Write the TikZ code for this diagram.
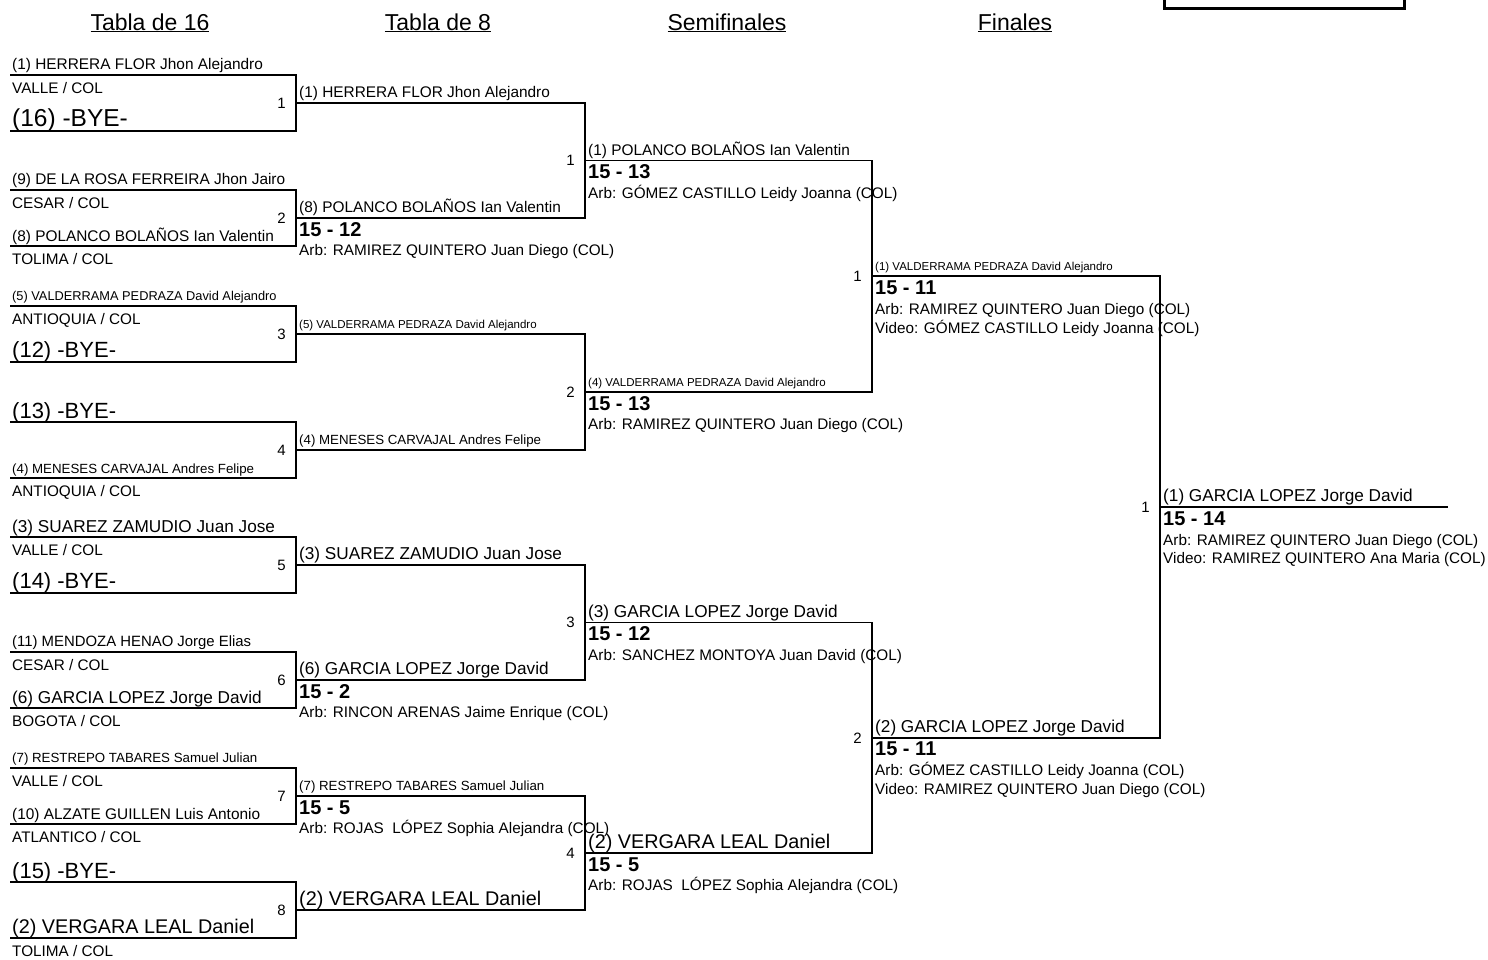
\documentclass[tikz,border=0pt]{standalone}
\usepackage{fontspec}
\setmainfont{Liberation Sans}

\tikzset{
  txt/.style={anchor=base west, inner sep=0pt},
  nm/.style={txt, font=\fontsize{15.4}{17}\selectfont},
  nmS/.style={txt, font=\fontsize{13.3}{15}\selectfont},
  nmL/.style={txt, font=\fontsize{17.2}{19}\selectfont},
  nmXL/.style={txt, font=\fontsize{19.8}{22}\selectfont},
  valS/.style={txt, font=\fontsize{11.5}{13}\selectfont},
  valM/.style={txt, font=\fontsize{12.8}{14}\selectfont},
  team/.style={txt, font=\fontsize{15.3}{17}\selectfont},
  bye/.style={txt, font=\fontsize{22}{24}\selectfont},
  score/.style={txt, font=\bfseries\fontsize{20}{22}\selectfont},
  arb/.style={txt, font=\fontsize{15.3}{17}\selectfont},
  num/.style={anchor=east, inner sep=0pt, font=\fontsize{15}{17}\selectfont},
  title/.style={anchor=base, inner sep=0pt, font=\fontsize{23}{25}\selectfont},
  bracket/.style={line width=1.6pt, line join=miter}
}

\begin{document}
\begin{tikzpicture}[x=1pt,y=-1pt]

	%Background
	\useasboundingbox (0,0) rectangle (1488,959);
	\clip (0,0) rectangle (1488,959);
	\fill[white] (0,0) rectangle (1488,959);

	%Box
	\draw[line width=3pt] (1164,-10) rectangle (1404,8);

	%Titles
	\node[title] (t16) at (150,30) {\underline{Tabla de 16}};
	\node[title] (t8) at (438,30) {\underline{Tabla de 8}};
	\node[title] (tsf) at (727,30) {\underline{Semifinales}};
	\node[title] (tf) at (1015,30) {\underline{Finales}};

	%Tabla de 16
	\draw[bracket] (10,75) -- (296,75) -- (296,131) -- (10,131);
	\draw[bracket] (10,190) -- (296,190) -- (296,246) -- (10,246);
	\draw[bracket] (10,306) -- (296,306) -- (296,362) -- (10,362);
	\draw[bracket] (10,422) -- (296,422) -- (296,478) -- (10,478);
	\draw[bracket] (10,537) -- (296,537) -- (296,593) -- (10,593);
	\draw[bracket] (10,652) -- (296,652) -- (296,708) -- (10,708);
	\draw[bracket] (10,768) -- (296,768) -- (296,824) -- (10,824);
	\draw[bracket] (10,882) -- (296,882) -- (296,938) -- (10,938);

	%1
	\node[nm] (a1) at (12,69) {(1) HERRERA FLOR Jhon Alejandro};
	\node[team] (a1t) at (12,93) {VALLE / COL};
	\node[bye] (a16) at (12,126) {\fontsize{24.5}{26}\selectfont (16) -BYE-};
	\node[num] (m1) at (286,103) {1};
	%2
	\node[nm] (a9) at (12,184) {(9) DE LA ROSA FERREIRA Jhon Jairo};
	\node[team] (a9t) at (12,208) {CESAR / COL};
	\node[nm] (a8) at (12,241) {(8) POLANCO BOLAÑOS Ian Valentin};
	\node[team] (a8t) at (12,264) {TOLIMA / COL};
	\node[num] (m2) at (286,218) {2};
	%3
	\node[valM] (a5) at (12,300) {(5) VALDERRAMA PEDRAZA David Alejandro};
	\node[team] (a5t) at (12,324) {ANTIOQUIA / COL};
	\node[bye] (a12) at (12,357) {(12) -BYE-};
	\node[num] (m3) at (286,334) {3};
	%4
	\node[bye] (a13) at (12,418) {(13) -BYE-};
	\node[nmS] (a4) at (12,473) {(4) MENESES CARVAJAL Andres Felipe};
	\node[team] (a4t) at (12,496) {ANTIOQUIA / COL};
	\node[num] (m4) at (286,450) {4};
	%5
	\node[nmL] (a3) at (12,532) {(3) SUAREZ ZAMUDIO Juan Jose};
	\node[team] (a3t) at (12,555) {VALLE / COL};
	\node[bye] (a14) at (12,588) {(14) -BYE-};
	\node[num] (m5) at (286,565) {5};
	%6
	\node[nm] (a11) at (12,646) {\fontsize{14.9}{17}\selectfont (11) MENDOZA HENAO Jorge Elias};
	\node[team] (a11t) at (12,670) {CESAR / COL};
	\node[nmL] (a6) at (12,703) {(6) GARCIA LOPEZ Jorge David};
	\node[team] (a6t) at (12,726) {BOGOTA / COL};
	\node[num] (m6) at (286,680) {6};
	%7
	\node[nmS] (a7) at (12,762) {(7) RESTREPO TABARES Samuel Julian};
	\node[team] (a7t) at (12,786) {VALLE / COL};
	\node[nm] (a10) at (12,819) {(10) ALZATE GUILLEN Luis Antonio};
	\node[team] (a10t) at (12,842) {ATLANTICO / COL};
	\node[num] (m7) at (286,796) {7};
	%8
	\node[bye] (a15) at (12,878) {(15) -BYE-};
	\node[nmXL] (a2) at (12,933) {(2) VERGARA LEAL Daniel};
	\node[team] (a2t) at (12,956) {TOLIMA / COL};
	\node[num] (m8) at (286,910) {8};

	%Tabla de 8
	\draw[bracket] (296,103) -- (585,103) -- (585,218) -- (296,218);
	\draw[bracket] (296,334) -- (585,334) -- (585,450) -- (296,450);
	\draw[bracket] (296,565) -- (585,565) -- (585,680) -- (296,680);
	\draw[bracket] (296,796) -- (585,796) -- (585,910) -- (296,910);

	\node[nm] (b1) at (299,97) {(1) HERRERA FLOR Jhon Alejandro};
	\node[nm] (b2) at (299,212) {(8) POLANCO BOLAÑOS Ian Valentin};
	\node[score] (b2s) at (299,236) {15 - 12};
	\node[arb] (b2a) at (299,255.5) {Arb: RAMIREZ QUINTERO Juan Diego (COL)};
	\node[num] (n1) at (575,160.5) {1};

	\node[valS] (b3) at (299,328) {(5) VALDERRAMA PEDRAZA David Alejandro};
	\node[nmS] (b4) at (299,444) {(4) MENESES CARVAJAL Andres Felipe};
	\node[num] (n2) at (575,392) {2};

	\node[nmL] (b5) at (299,559) {(3) SUAREZ ZAMUDIO Juan Jose};
	\node[nmL] (b6) at (299,674) {(6) GARCIA LOPEZ Jorge David};
	\node[score] (b6s) at (299,698) {15 - 2};
	\node[arb] (b6a) at (299,717.5) {Arb: RINCON ARENAS Jaime Enrique (COL)};
	\node[num] (n3) at (575,622.5) {3};

	\node[nmS] (b7) at (299,790) {(7) RESTREPO TABARES Samuel Julian};
	\node[score] (b7s) at (299,814) {15 - 5};
	\node[arb] (b7a) at (299,833.5) {Arb: ROJAS\ \ LÓPEZ Sophia Alejandra (COL)};
	\node[nmXL] (b8) at (299,905) {(2) VERGARA LEAL Daniel};
	\node[num] (n4) at (575,853) {4};

	%Semifinales
	\draw[bracket] (585,160.5) -- (872,160.5) -- (872,392) -- (585,392);
	\draw[bracket] (585,622.5) -- (872,622.5) -- (872,853) -- (585,853);

	\node[nm] (c1) at (588,155) {(1) POLANCO BOLAÑOS Ian Valentin};
	\node[score] (c1s) at (588,178.5) {15 - 13};
	\node[arb] (c1a) at (588,198) {Arb: GÓMEZ CASTILLO Leidy Joanna (COL)};
	\node[valS] (c2) at (588,386) {(4) VALDERRAMA PEDRAZA David Alejandro};
	\node[score] (c2s) at (588,410) {15 - 13};
	\node[arb] (c2a) at (588,429.5) {Arb: RAMIREZ QUINTERO Juan Diego (COL)};
	\node[num] (s1) at (862,276) {1};

	\node[nmL] (c3) at (588,617) {(3) GARCIA LOPEZ Jorge David};
	\node[score] (c3s) at (588,640.5) {15 - 12};
	\node[arb] (c3a) at (588,660) {Arb: SANCHEZ MONTOYA Juan David (COL)};
	\node[nmXL] (c4) at (588,848) {(2) VERGARA LEAL Daniel};
	\node[score] (c4s) at (588,871) {15 - 5};
	\node[arb] (c4a) at (588,890.5) {Arb: ROJAS\ \ LÓPEZ Sophia Alejandra (COL)};
	\node[num] (s2) at (862,738) {2};

	%Finales
	\draw[bracket] (872,276) -- (1160,276) -- (1160,738) -- (872,738);

	\node[valS] (d1) at (875,270) {(1) VALDERRAMA PEDRAZA David Alejandro};
	\node[score] (d1s) at (875,294.5) {15 - 11};
	\node[arb] (d1a) at (875,314) {Arb: RAMIREZ QUINTERO Juan Diego (COL)};
	\node[arb] (d1v) at (875,333) {Video: GÓMEZ CASTILLO Leidy Joanna (COL)};
	\node[nmL] (d2) at (875,732) {(2) GARCIA LOPEZ Jorge David};
	\node[score] (d2s) at (875,755.5) {15 - 11};
	\node[arb] (d2a) at (875,775) {Arb: GÓMEZ CASTILLO Leidy Joanna (COL)};
	\node[arb] (d2v) at (875,794) {Video: RAMIREZ QUINTERO Juan Diego (COL)};
	\node[num] (f1) at (1150,507) {1};

	%Campeon
	\draw[bracket] (1160,507) -- (1448,507);
	\node[nmL] (w) at (1163,501) {(1) GARCIA LOPEZ Jorge David};
	\node[score] (ws) at (1163,525) {15 - 14};
	\node[arb] (wa) at (1163,545) {Arb: RAMIREZ QUINTERO Juan Diego (COL)};
	\node[arb] (wv) at (1163,563.5) {Video: RAMIREZ QUINTERO Ana Maria (COL)};

\end{tikzpicture}
\end{document}
